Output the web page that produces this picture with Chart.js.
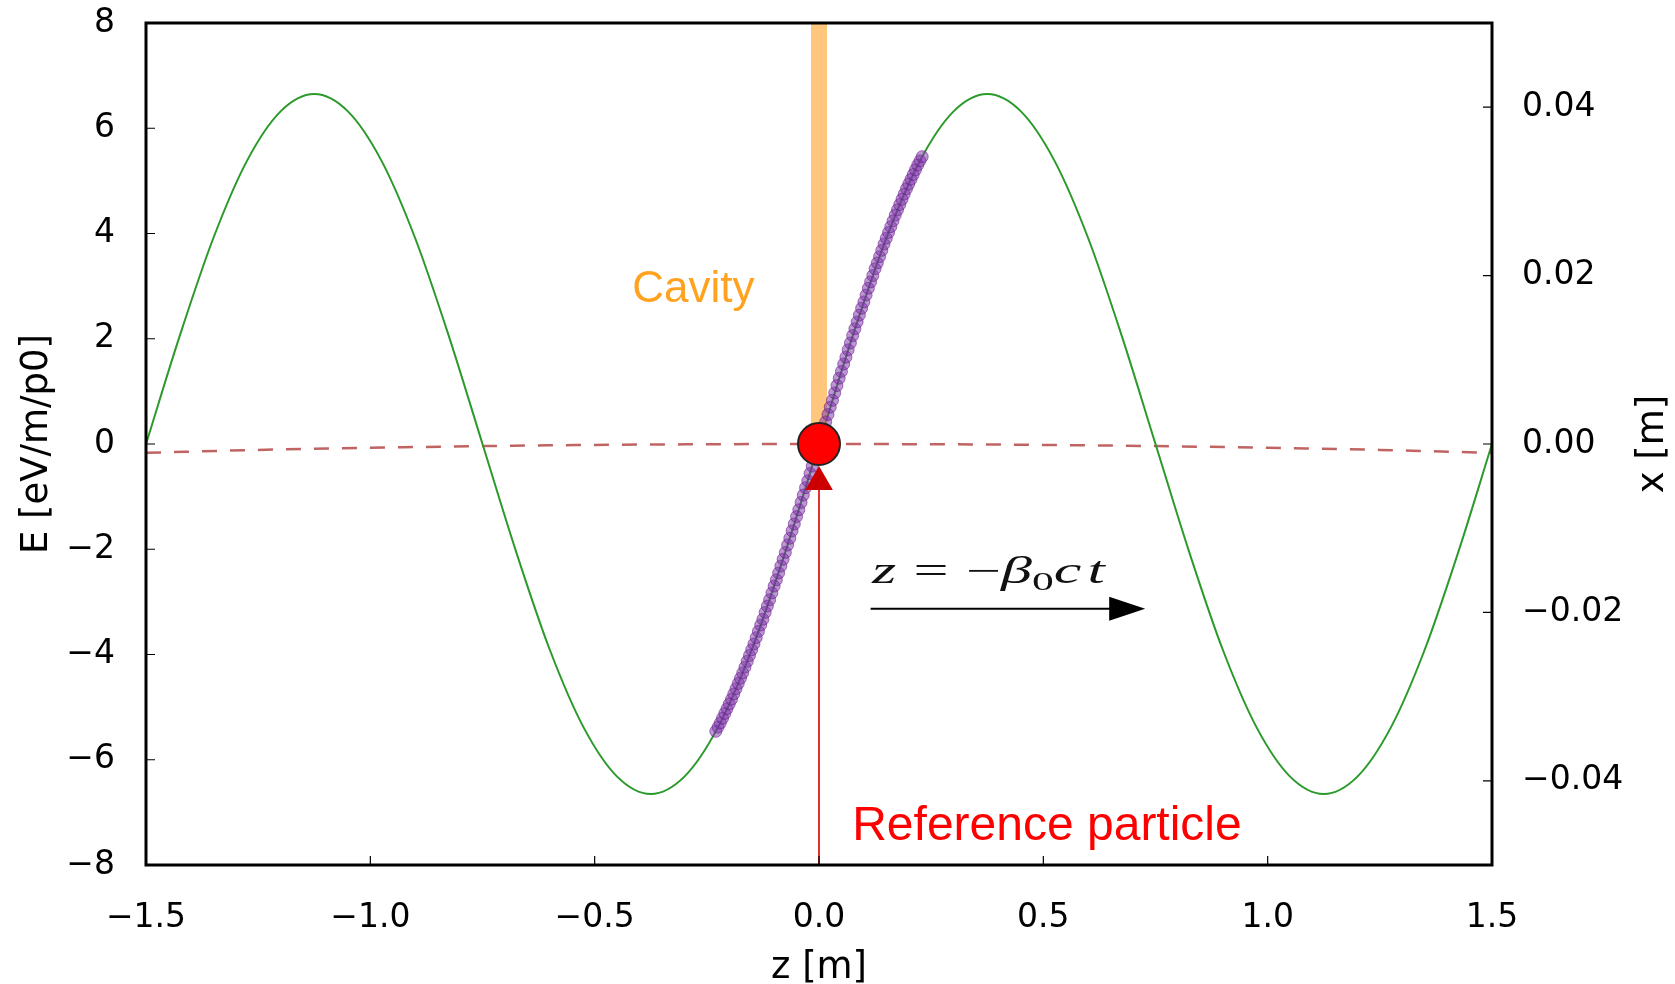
<!DOCTYPE html>
<html>
<head>
<meta charset="utf-8">
<script src="https://cdn.jsdelivr.net/npm/chart.js@4/dist/chart.umd.min.js"></script>
<style>
  html, body { margin: 0; background: #fff; }
  #wrap { width: 1675px; height: 984px; position: relative; }
</style>
</head>
<body>
<div id="wrap"><canvas id="rfChart"></canvas></div>
<script>
// RF field seen by the bunch, E [eV/m/p0] against z [m]
const zField = [-1.5, -1.425, -1.35, -1.275, -1.2, -1.125, -1.05, -0.975, -0.9, -0.825,
                -0.75, -0.675, -0.6, -0.525, -0.45, -0.375, -0.3, -0.225, -0.15, -0.075,
                0, 0.075, 0.15, 0.225, 0.3, 0.375, 0.45, 0.525, 0.6, 0.675,
                0.75, 0.825, 0.9, 0.975, 1.05, 1.125, 1.2, 1.275, 1.35, 1.425, 1.5];
const eField = [0, 2.05, 3.91, 5.38, 6.32, 6.65, 6.32, 5.38, 3.91, 2.05,
                0, -2.05, -3.91, -5.38, -6.32, -6.65, -6.32, -5.38, -3.91, -2.05,
                0, 2.05, 3.91, 5.38, 6.32, 6.65, 6.32, 5.38, 3.91, 2.05,
                0, -2.05, -3.91, -5.38, -6.32, -6.65, -6.32, -5.38, -3.91, -2.05, 0];

// bunch particles sitting on the field curve
const zBunch = [-0.23, -0.225, -0.22, -0.215, -0.21, -0.205, -0.2, -0.195, -0.19, -0.185,
                -0.18, -0.175, -0.17, -0.165, -0.16, -0.155, -0.15, -0.145, -0.14, -0.135,
                -0.13, -0.125, -0.12, -0.115, -0.11, -0.105, -0.1, -0.095, -0.09, -0.085,
                -0.08, -0.075, -0.07, -0.065, -0.06, -0.055, -0.05, -0.045, -0.04, -0.035,
                -0.03, -0.025, -0.02, -0.015, -0.01, -0.005, 0,
                0.005, 0.01, 0.015, 0.02, 0.025, 0.03, 0.035, 0.04, 0.045, 0.05,
                0.055, 0.06, 0.065, 0.07, 0.075, 0.08, 0.085, 0.09, 0.095, 0.1,
                0.105, 0.11, 0.115, 0.12, 0.125, 0.13, 0.135, 0.14, 0.145, 0.15,
                0.155, 0.16, 0.165, 0.17, 0.175, 0.18, 0.185, 0.19, 0.195, 0.2,
                0.205, 0.21, 0.215, 0.22, 0.225, 0.23];
const eBunch = [-5.46, -5.38, -5.30, -5.21, -5.12, -5.03, -4.94, -4.85, -4.75, -4.65,
                -4.55, -4.45, -4.35, -4.24, -4.13, -4.02, -3.91, -3.80, -3.68, -3.56,
                -3.44, -3.33, -3.20, -3.08, -2.96, -2.83, -2.70, -2.58, -2.45, -2.32,
                -2.19, -2.06, -1.92, -1.79, -1.65, -1.52, -1.38, -1.25, -1.11, -0.97,
                -0.83, -0.70, -0.56, -0.42, -0.28, -0.14, 0,
                0.14, 0.28, 0.42, 0.56, 0.70, 0.83, 0.97, 1.11, 1.25, 1.38,
                1.52, 1.65, 1.79, 1.92, 2.06, 2.19, 2.32, 2.45, 2.58, 2.70,
                2.83, 2.96, 3.08, 3.20, 3.33, 3.44, 3.56, 3.68, 3.80, 3.91,
                4.02, 4.13, 4.24, 4.35, 4.45, 4.55, 4.65, 4.75, 4.85, 4.94,
                5.03, 5.12, 5.21, 5.30, 5.38, 5.46];

// closed orbit x [m] (right axis)
const zOrbit = [-1.5, -1.25, -1, -0.75, -0.5, -0.25, 0, 0.25, 0.5, 0.75, 1, 1.25, 1.5];
const xOrbit = [-0.00105, -0.0007, -0.00045, -0.00025, -0.00011, -0.00003, 0,
                -0.00003, -0.00011, -0.00025, -0.00045, -0.0007, -0.00105];

// cavity position and reference particle
const zCavity = [0, 0];
const eCavity = [8, 0];
const zRefArrow = [0, 0];
const eRefArrow = [-8, -0.72];
const zRef = [0];
const eRef = [0];

// tick labels
const zTicks = [-1.5, -1.0, -0.5, 0.0, 0.5, 1.0, 1.5];
const eTicks = [-8, -6, -4, -2, 0, 2, 4, 6, 8];
const xTicks = [-0.04, -0.02, 0.0, 0.02, 0.04];

// text anchors, in data units
const cavityLabel = { z: -0.28, E: 2.69, text: 'Cavity' };
const refLabel = { z: 0.074, E: -7.52, text: 'Reference particle' };
const motionFormula = { from: 0.118, to: 0.637, E: -2.64 };
const motionArrow = { from: 0.115, to: 0.727, E: -3.13 };

const pts = (xs, ys) => xs.map((x, i) => ({ x: x, y: ys[i] }));
const minus = s => s.replace('-', '\u2212');

const TICK_FONT = { family: '"DejaVu Sans"', size: 33 };
const TITLE_FONT = '37px "DejaVu Sans"';

// fixed box sizes; drop the label overhang Chart.js reserves
const fixWidth = w => s => { s.width = w; s.paddingTop = 0; s.paddingBottom = 0; };

// inward tick marks, the box and the axis titles
const frameAndTitles = {
    id: 'frameAndTitles',
    afterDatasetsDraw(chart) {
        const { ctx, chartArea: a, scales } = chart;
        ctx.save();
        ctx.strokeStyle = '#000';
        ctx.lineWidth = 1.2;
        ctx.beginPath();
        scales.x.ticks.forEach(t => {
            const x = scales.x.getPixelForValue(t.value);
            ctx.moveTo(x, a.bottom); ctx.lineTo(x, a.bottom - 9);
        });
        scales.y.ticks.forEach(t => {
            const y = scales.y.getPixelForValue(t.value);
            ctx.moveTo(a.left, y); ctx.lineTo(a.left + 9, y);
        });
        scales.y1.ticks.forEach(t => {
            const y = scales.y1.getPixelForValue(t.value);
            ctx.moveTo(a.right, y); ctx.lineTo(a.right - 9, y);
        });
        ctx.stroke();
        ctx.lineWidth = 3;
        ctx.strokeRect(a.left, a.top, a.width, a.height);

        ctx.fillStyle = '#000';
        ctx.font = TITLE_FONT;
        ctx.textAlign = 'center';
        ctx.textBaseline = 'middle';
        ctx.fillText('z [m]', (a.left + a.right) / 2, a.bottom + 103);
        const midY = (a.top + a.bottom) / 2;
        [[a.left - 109, 'E [eV/m/p0]'], [a.right + 161, 'x [m]']].forEach(([x, label]) => {
            ctx.save();
            ctx.translate(x, midY);
            ctx.rotate(-Math.PI / 2);
            ctx.fillText(label, 0, 0);
            ctx.restore();
        });
        ctx.restore();
    }
};

// labels and the direction-of-motion arrow
const annotations = {
    id: 'annotations',
    afterDatasetsDraw(chart) {
        const { ctx, scales } = chart;
        const X = v => scales.x.getPixelForValue(v);
        const Y = v => scales.y.getPixelForValue(v);
        ctx.save();

        ctx.font = '44px "Liberation Sans", Arial, sans-serif';
        ctx.fillStyle = '#ffa21f';
        ctx.textAlign = 'center';
        ctx.textBaseline = 'alphabetic';
        ctx.fillText(cavityLabel.text, X(cavityLabel.z), Y(cavityLabel.E));

        ctx.font = '48px "Liberation Sans", Arial, sans-serif';
        ctx.fillStyle = '#ff0000';
        ctx.textAlign = 'left';
        ctx.fillText(refLabel.text, X(refLabel.z), Y(refLabel.E));

        // z = -beta0 c t, typeset piece by piece
        const size = 37;
        const it = `italic ${size}px "Liberation Serif", serif`;
        const up = `${size}px "Liberation Serif", serif`;
        const sub = `${Math.round(size * 0.7)}px "Liberation Serif", serif`;
        const parts = [
            { t: 'z', f: it }, { gap: 0.28 }, { t: '=', f: up }, { gap: 0.28 },
            { t: '\u2212', f: up }, { t: '\u03b2', f: it }, { t: '0', f: sub, dy: size * 0.2 },
            { t: 'c', f: it }, { gap: 0.1 }, { t: 't', f: it }
        ];
        let total = 0;
        parts.forEach(p => {
            if (p.gap) { p.w = p.gap * size; }
            else { ctx.font = p.f; p.w = ctx.measureText(p.t).width; }
            total += p.w;
        });
        const x0 = X(motionFormula.from);
        const sx = (X(motionFormula.to) - x0) / total;
        ctx.save();
        ctx.translate(x0, Y(motionFormula.E));
        ctx.scale(sx, 1);
        ctx.fillStyle = '#111';
        let cx = 0;
        parts.forEach(p => {
            if (!p.gap) { ctx.font = p.f; ctx.fillText(p.t, cx, p.dy || 0); }
            cx += p.w;
        });
        ctx.restore();

        const ay = Y(motionArrow.E);
        const ax0 = X(motionArrow.from);
        const ax1 = X(motionArrow.to);
        ctx.strokeStyle = '#000';
        ctx.lineWidth = 2;
        ctx.beginPath();
        ctx.moveTo(ax0, ay);
        ctx.lineTo(ax1 - 30, ay);
        ctx.stroke();
        ctx.fillStyle = '#000';
        ctx.beginPath();
        ctx.moveTo(ax1, ay);
        ctx.lineTo(ax1 - 36, ay - 12);
        ctx.lineTo(ax1 - 36, ay + 12);
        ctx.closePath();
        ctx.fill();

        ctx.restore();
    }
};

const ctx = document.getElementById('rfChart').getContext('2d');
new Chart(ctx, {
    type: 'scatter',
    data: {
        datasets: [
            {
                label: 'Reference particle',
                data: pts(zRef, eRef),
                pointRadius: 21,
                pointBackgroundColor: '#ff0000',
                pointBorderColor: '#222',
                pointBorderWidth: 2,
                order: 1
            },
            {
                label: 'Reference arrow',
                data: pts(zRefArrow, eRefArrow),
                showLine: true,
                borderColor: '#e3302c',
                borderWidth: 2,
                pointRadius: [0, 16],
                pointStyle: 'triangle',
                pointBackgroundColor: '#cc0000',
                pointBorderWidth: 0,
                order: 2
            },
            {
                label: 'Bunch',
                data: pts(zBunch, eBunch),
                pointRadius: 6,
                pointBackgroundColor: 'rgba(125, 45, 170, 0.5)',
                pointBorderColor: 'rgba(95, 25, 130, 0.55)',
                pointBorderWidth: 1,
                order: 3
            },
            {
                label: 'Cavity',
                data: pts(zCavity, eCavity),
                showLine: true,
                borderColor: 'rgba(255, 160, 40, 0.6)',
                borderWidth: 16,
                borderCapStyle: 'butt',
                pointRadius: 0,
                order: 4
            },
            {
                label: 'E field',
                data: pts(zField, eField),
                showLine: true,
                cubicInterpolationMode: 'monotone',
                borderColor: '#2b9a2b',
                borderWidth: 2,
                pointRadius: 0,
                order: 5
            },
            {
                label: 'Closed orbit',
                data: pts(zOrbit, xOrbit),
                yAxisID: 'y1',
                showLine: true,
                cubicInterpolationMode: 'monotone',
                borderColor: 'rgba(175, 60, 60, 0.8)',
                borderWidth: 2.5,
                borderDash: [15, 13],
                pointRadius: 0,
                order: 6
            }
        ]
    },
    options: {
        responsive: true,
        maintainAspectRatio: false,
        animation: false,
        layout: { padding: { top: 23, left: 0, right: 0, bottom: 0 } },
        plugins: {
            legend: { display: false },
            tooltip: { enabled: false }
        },
        scales: {
            x: {
                type: 'linear',
                min: -1.5,
                max: 1.5,
                afterBuildTicks: s => { s.ticks = zTicks.map(v => ({ value: v })); },
                afterFit: s => { s.height = 119; },
                grid: { display: false, drawTicks: false },
                border: { display: false },
                ticks: {
                    font: TICK_FONT,
                    color: '#000',
                    padding: 34,
                    maxRotation: 0,
                    callback: v => minus(Number(v).toFixed(1))
                }
            },
            y: {
                min: -8,
                max: 8,
                afterBuildTicks: s => { s.ticks = eTicks.map(v => ({ value: v })); },
                afterFit: fixWidth(146),
                grid: { display: false, drawTicks: false },
                border: { display: false },
                ticks: {
                    font: TICK_FONT,
                    color: '#000',
                    padding: 31,
                    callback: v => minus(String(v))
                }
            },
            y1: {
                position: 'right',
                min: -0.05,
                max: 0.05,
                afterBuildTicks: s => { s.ticks = xTicks.map(v => ({ value: v })); },
                afterFit: fixWidth(183),
                grid: { display: false, drawTicks: false },
                border: { display: false },
                ticks: {
                    font: TICK_FONT,
                    color: '#000',
                    padding: 30,
                    callback: v => minus(Number(v).toFixed(2))
                }
            }
        }
    },
    plugins: [frameAndTitles, annotations]
});
</script>
</body>
</html>
